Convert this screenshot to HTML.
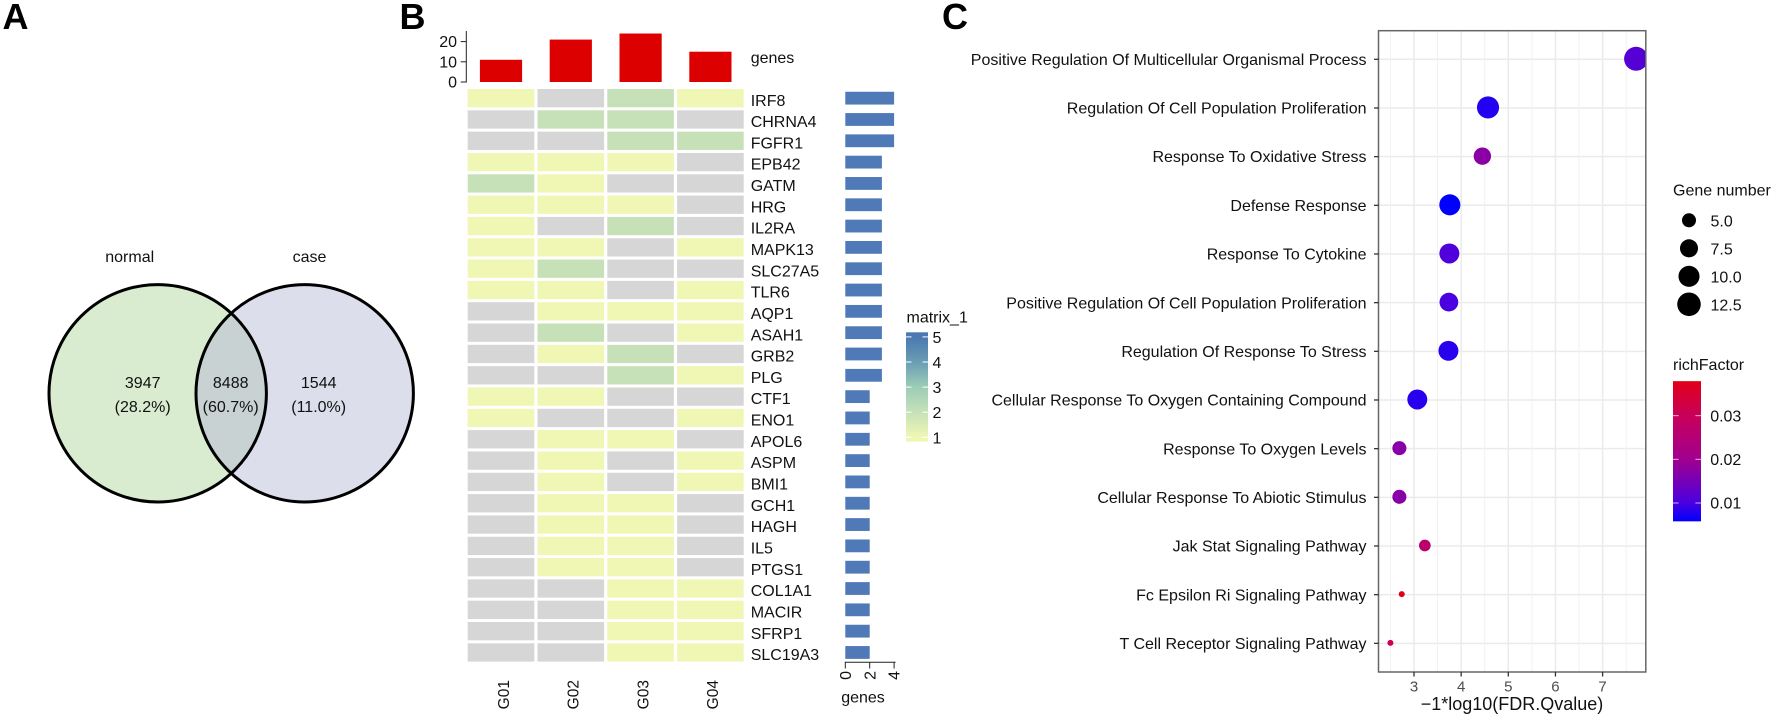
<!DOCTYPE html>
<html lang="en">
<head>
<meta charset="utf-8">
<title>Venn, gene heatmap and enrichment dot plot</title>
<style>
html,body{margin:0;padding:0;background:#fff;width:1772px;height:717px;overflow:hidden}
svg{display:block;filter:blur(0.35px)}
text{font-family:"Liberation Sans",Arial,sans-serif;fill:#111}
</style>
</head>
<body>
<svg id="fig" xmlns="http://www.w3.org/2000/svg" width="1772" height="717" viewBox="0 0 1772 717">
  <defs>
    <clipPath id="clip-left"><circle cx="157.7" cy="393.3" r="108.7"/></clipPath>
    <clipPath id="clip-panel"><rect x="1378.5" y="30.7" width="267.3" height="641.3"/></clipPath>
    <linearGradient id="grad-matrix" x1="0" y1="1" x2="0" y2="0">
      <stop offset="0.04" stop-color="#f0f7b4"/><stop offset="0.27" stop-color="#c6e1b8"/>
      <stop offset="0.5" stop-color="#9ccdb6"/><stop offset="0.73" stop-color="#6a9db4"/><stop offset="0.96" stop-color="#4a78b0"/>
    </linearGradient>
    <linearGradient id="grad-rich" x1="0" y1="1" x2="0" y2="0">
      <stop offset="0" stop-color="#0000ff"/><stop offset="0.13" stop-color="#4a00e0"/>
      <stop offset="0.44" stop-color="#a00090"/><stop offset="0.75" stop-color="#c8005a"/><stop offset="1" stop-color="#e10018"/>
    </linearGradient>
  </defs>

  <text x="2.5" y="29" font-size="36" font-weight="bold" style="fill:#000">A</text>
  <text x="399.5" y="29" font-size="36" font-weight="bold" style="fill:#000">B</text>
  <text x="942" y="29" font-size="36" font-weight="bold" style="fill:#000">C</text>

  <g>
    <circle cx="157.7" cy="393.3" r="108.7" fill="#d9ecd0"/>
    <circle cx="304.7" cy="393.3" r="108.7" fill="#dcdeec"/>
    <circle cx="304.7" cy="393.3" r="108.7" fill="#c8d2d3" clip-path="url(#clip-left)"/>
    <circle cx="157.7" cy="393.3" r="108.7" fill="none" stroke="#000" stroke-width="3"/>
    <circle cx="304.7" cy="393.3" r="108.7" fill="none" stroke="#000" stroke-width="3"/>
    <text x="129.7" y="262" font-size="16" text-anchor="middle">normal</text>
    <text x="309.5" y="262" font-size="16" text-anchor="middle">case</text>
    <text x="142.7" y="388" font-size="16" text-anchor="middle">3947</text>
    <text x="142.7" y="412" font-size="16" text-anchor="middle">(28.2%)</text>
    <text x="230.7" y="388" font-size="16" text-anchor="middle">8488</text>
    <text x="230.7" y="412" font-size="16" text-anchor="middle">(60.7%)</text>
    <text x="318.7" y="388" font-size="16" text-anchor="middle">1544</text>
    <text x="318.7" y="412" font-size="16" text-anchor="middle">(11.0%)</text>
  </g>

  <g id="heat"></g>
  <g id="dots"></g>
</svg>

<script>
// ---- Panel B data ----
const groups = ["G01", "G02", "G03", "G04"];
const groupGenes = [11, 21, 24, 15];
const topTicks = [0, 10, 20];
const sideTicks = [0, 2, 4];
const matrixTicks = [1, 2, 3, 4, 5];
const geneNames = ["IRF8","CHRNA4","FGFR1","EPB42","GATM","HRG","IL2RA","MAPK13","SLC27A5","TLR6","AQP1","ASAH1","GRB2","PLG","CTF1","ENO1","APOL6","ASPM","BMI1","GCH1","HAGH","IL5","PTGS1","COL1A1","MACIR","SFRP1","SLC19A3"];
const g01Values = [1,0,0,1,2,1,1,1,1,1,0,0,0,0,1,1,0,0,0,0,0,0,0,0,0,0,0];
const g02Values = [0,2,0,1,1,1,0,1,2,1,1,2,1,0,1,0,1,1,1,1,1,1,1,0,0,0,0];
const g03Values = [2,2,2,1,0,1,2,0,0,0,1,0,2,2,0,0,1,0,0,1,1,1,1,1,1,1,1];
const g04Values = [1,0,2,0,0,0,0,1,0,1,1,1,0,1,0,1,0,1,1,0,0,0,0,1,1,1,1];
const geneTotals = [4,4,4,3,3,3,3,3,3,3,3,3,3,3,2,2,2,2,2,2,2,2,2,2,2,2,2];

// ---- Panel C data ----
const terms = ["Positive Regulation Of Multicellular Organismal Process","Regulation Of Cell Population Proliferation","Response To Oxidative Stress","Defense Response","Response To Cytokine","Positive Regulation Of Cell Population Proliferation","Regulation Of Response To Stress","Cellular Response To Oxygen Containing Compound","Response To Oxygen Levels","Cellular Response To Abiotic Stimulus","Jak Stat Signaling Pathway","Fc Epsilon Ri Signaling Pathway","T Cell Receptor Signaling Pathway"];
const fdrValues = [7.71,4.57,4.45,3.76,3.75,3.74,3.73,3.07,2.69,2.69,3.23,2.74,2.50];
const geneCounts = [13,11,7,10,9,8,9,9,5,5,4,3,3];
const richValues = [0.0113,0.0077,0.0174,0.0058,0.0106,0.0100,0.0081,0.0081,0.0170,0.0170,0.0267,0.0379,0.0308];
const xTicks = [3,4,5,6,7];
const xMinorTicks = [2.5,3.5,4.5,5.5,6.5,7.5];
const sizeLegend = [5,7.5,10,12.5];
const richTicks = [0.01,0.02,0.03];

const NS = "http://www.w3.org/2000/svg";
function mk(tag, attrs, parent, txt){
  const e = document.createElementNS(NS, tag);
  for (const k in attrs) e.setAttribute(k, attrs[k]);
  if (txt !== undefined) e.textContent = txt;
  parent.appendChild(e);
  return e;
}
function mix(a,b,t){return Math.round(a+(b-a)*t);}

// Panel B scales
const colX = i => 467.7 + 69.8*i;
const colW = 66.6;
const rowY = i => 89 + 21.32*i;
const rowH = 18.3;
const topY = v => 82 - 2.02*v;
const sideX = v => 845.3 + 12.2*v;
const matrixY = v => 437.3 - 25.1*(v-1);
const heatFill = v => v === 0 ? "#d6d6d6" : (v === 1 ? "#f0f7b4" : (v === 2 ? "#c6e1b8" : (v === 3 ? "#9ccdb6" : (v === 4 ? "#6a9db4" : "#4a78b0"))));

const heat = document.getElementById("heat");
const matrixCols = [g01Values, g02Values, g03Values, g04Values];
let el;

// Top bars
groups.forEach((g,i)=>{
  el = mk("rect",{x:colX(i)+colW/2-21.1,y:topY(groupGenes[i]),width:42.2,height:82-topY(groupGenes[i]),fill:"#dd0000"},heat);
  
  
});
el = mk("line",{x1:466.3,y1:31,x2:466.3,y2:82.5,stroke:"#222","stroke-width":1},heat);


topTicks.forEach(t=>{
  el = mk("line",{x1:460.7,y1:topY(t),x2:466.3,y2:topY(t),stroke:"#222","stroke-width":1},heat);
  
  
  el = mk("text",{x:457,y:topY(t)+5.6,"font-size":16,"text-anchor":"end"},heat,String(t));
  
  
});
el = mk("text",{x:750.7,y:63,"font-size":16},heat,"genes");



// Heatmap cells, gene labels, side bars
geneNames.forEach((name,r)=>{
  matrixCols.forEach((col,c)=>{
    el = mk("rect",{x:colX(c),y:rowY(r),width:colW,height:rowH,fill:heatFill(col[r])},heat);
    
    
  });
  el = mk("text",{x:750.7,y:rowY(r)+rowH/2+7.6,"font-size":16},heat,name);
  
  
  el = mk("rect",{x:sideX(0),y:rowY(r)+rowH/2-6.4,width:sideX(geneTotals[r])-sideX(0),height:12.8,fill:"#4f79b7"},heat);
  
  
});

// Group labels
groups.forEach((g,i)=>{
  const cx = colX(i)+colW/2+7.8;
  el = mk("text",{x:cx,y:680,"font-size":15.5,"text-anchor":"end",transform:"rotate(-90 "+cx+" 680)"},heat,g);
  
  
});

// Side axis
el = mk("line",{x1:sideX(0)-0.5,y1:662.3,x2:sideX(4)+1.5,y2:662.3,stroke:"#222","stroke-width":1},heat);


sideTicks.forEach(t=>{
  el = mk("line",{x1:sideX(t),y1:662.3,x2:sideX(t),y2:668.5,stroke:"#222","stroke-width":1},heat);
  
  
  const lx = sideX(t)+5.6;
  el = mk("text",{x:lx,y:671,"font-size":16,"text-anchor":"end",transform:"rotate(-90 "+lx+" 671)"},heat,String(t));
  
  
});
el = mk("text",{x:863,y:702.7,"font-size":16,"text-anchor":"middle"},heat,"genes");



// Matrix legend
el = mk("text",{x:906.5,y:322.7,"font-size":16},heat,"matrix_1");


el = mk("rect",{x:906,y:332.3,width:22,height:109.4,fill:"url(#grad-matrix)"},heat);


matrixTicks.forEach(t=>{
  el = mk("line",{x1:906,y1:matrixY(t),x2:911.5,y2:matrixY(t),stroke:"#fff","stroke-width":1},heat);
  
  
  el = mk("line",{x1:922.5,y1:matrixY(t),x2:928,y2:matrixY(t),stroke:"#fff","stroke-width":1},heat);
  
  
  el = mk("text",{x:932.5,y:matrixY(t)+6,"font-size":16},heat,String(t));
  
  
});

// Panel C scales
const dots = document.getElementById("dots");
const xS = v => 1414 + (v-3)*47.15;
const yS = i => 59.3 + 48.67*i;
const sizeS = g => 6 + 18*Math.sqrt(Math.max(0,(g-3)/10));
const richMin = 0.0058, richMax = 0.0379;
const richT = v => (v-richMin)/(richMax-richMin);
const richY = v => 503 - (v-0.01)*4367;
function richColor(v){
  const t = Math.min(1,Math.max(0,richT(v)));
  const s = [0,0.13,0.44,0.75,1];
  const R = [0,74,160,200,225];
  const B = [255,224,144,90,24];
  let k = 0;
  while (k < s.length-2 && t > s[k+1]) k++;
  const u = (t-s[k])/(s[k+1]-s[k]);
  return "rgb("+mix(R[k],R[k+1],u)+",0,"+mix(B[k],B[k+1],u)+")";
}

// Gridlines
terms.forEach((t,i)=>{
  el = mk("line",{x1:1378.5,y1:yS(i),x2:1645.8,y2:yS(i),stroke:"#ebebeb","stroke-width":1.5},dots);
  
  
});
xMinorTicks.forEach(t=>{
  el = mk("line",{x1:xS(t),y1:30.7,x2:xS(t),y2:672,stroke:"#f0f0f0","stroke-width":0.9},dots);
  
  
});
xTicks.forEach(t=>{
  el = mk("line",{x1:xS(t),y1:30.7,x2:xS(t),y2:672,stroke:"#ebebeb","stroke-width":1.5},dots);
  
  
});

// Points
const pts = mk("g",{"clip-path":"url(#clip-panel)"},dots);


terms.forEach((t,i)=>{
  el = mk("circle",{cx:xS(fdrValues[i]),cy:yS(i)-0.5,r:sizeS(geneCounts[i])/2,fill:richColor(richValues[i])},pts);
  
  
});

// Panel border
el = mk("rect",{x:1378.5,y:30.7,width:267.3,height:641.3,fill:"none",stroke:"#666","stroke-width":1.5},dots);



// Axes
terms.forEach((t,i)=>{
  el = mk("line",{x1:1374,y1:yS(i),x2:1378.5,y2:yS(i),stroke:"#333","stroke-width":1.3},dots);
  
  
  el = mk("text",{x:1366.5,y:yS(i)+5.6,"font-size":16,"text-anchor":"end"},dots,t);
  
  
});
xTicks.forEach(t=>{
  el = mk("line",{x1:xS(t),y1:672,x2:xS(t),y2:676.5,stroke:"#333","stroke-width":1.3},dots);
  
  
  el = mk("text",{x:xS(t),y:691.7,"font-size":15,"text-anchor":"middle",style:"fill:#4d4d4d"},dots,String(t));
  
  
});
el = mk("text",{x:1512,y:710,"font-size":18,"text-anchor":"middle"},dots,"\u22121*log10(FDR.Qvalue)");



// Size legend
el = mk("text",{x:1673,y:195.7,"font-size":16},dots,"Gene number");


sizeLegend.forEach((g,i)=>{
  const ly = 220.3 + 28*i;
  el = mk("circle",{cx:1689,cy:ly,r:sizeS(g)/2,fill:"#000"},dots);
  
  
  el = mk("text",{x:1710.5,y:ly+6.3,"font-size":16},dots,g.toFixed(1));
  
  
});

// Colour legend
el = mk("text",{x:1673,y:370,"font-size":16},dots,"richFactor");


el = mk("rect",{x:1673,y:richY(richMax),width:28,height:richY(richMin)-richY(richMax),fill:"url(#grad-rich)"},dots);


richTicks.forEach(t=>{
  el = mk("line",{x1:1673,y1:richY(t),x2:1678.6,y2:richY(t),stroke:"#fff","stroke-opacity":0.7,"stroke-width":1},dots);
  
  
  el = mk("line",{x1:1695.4,y1:richY(t),x2:1701,y2:richY(t),stroke:"#fff","stroke-opacity":0.7,"stroke-width":1},dots);
  
  
  el = mk("text",{x:1710.2,y:richY(t)+5.6,"font-size":16},dots,t.toFixed(2));
  
  
});
</script>
</body>
</html>
